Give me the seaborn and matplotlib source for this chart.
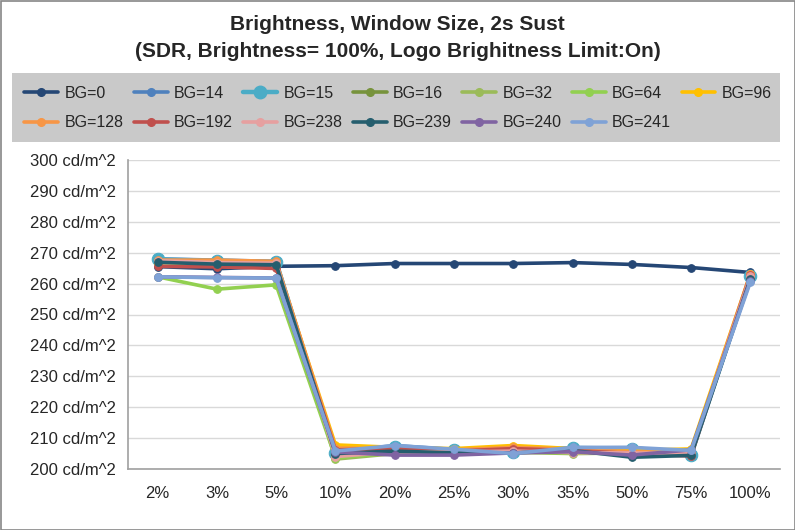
import matplotlib
matplotlib.use("Agg")
import matplotlib.pyplot as plt
import seaborn as sns
import pandas as pd
from matplotlib.lines import Line2D
from matplotlib.patches import Rectangle

categories = ["2%", "3%", "5%", "10%", "20%", "25%", "30%", "35%", "50%", "75%", "100%"]
series_names = ["BG=0", "BG=14", "BG=15", "BG=16", "BG=32", "BG=64", "BG=96",
                "BG=128", "BG=192", "BG=238", "BG=239", "BG=240", "BG=241"]
bg0 = [265.5, 264.8, 265.6, 265.8, 266.5, 266.5, 266.5, 266.8, 266.2, 265.2, 263.6]
bg14 = [268.0, 267.6, 267.2, 205.5, 207.6, 206.3, 205.8, 206.8, 206.9, 205.2, 262.0]
bg15 = [267.8, 267.4, 267.0, 205.3, 207.2, 206.0, 205.6, 206.8, 206.6, 204.6, 262.5]
bg16 = [267.2, 266.8, 266.4, 205.0, 206.2, 205.6, 206.2, 205.4, 205.0, 205.2, 262.2]
bg32 = [267.0, 266.6, 266.2, 203.2, 205.0, 205.0, 205.4, 205.0, 205.2, 205.5, 262.0]
bg64 = [262.2, 258.2, 259.6, 203.6, 205.3, 205.2, 205.8, 205.1, 205.5, 205.8, 262.3]
bg96 = [266.8, 266.6, 266.4, 207.8, 207.0, 206.6, 207.6, 206.6, 206.0, 206.5, 263.0]
bg128 = [267.6, 267.6, 267.2, 206.8, 206.5, 206.2, 207.0, 206.4, 205.6, 205.3, 263.2]
bg192 = [265.6, 265.4, 264.9, 206.2, 206.6, 205.8, 206.6, 206.0, 205.0, 204.2, 262.8]
bg238 = [267.4, 266.8, 266.6, 204.0, 205.6, 205.5, 205.8, 205.3, 205.2, 205.0, 262.4]
bg239 = [266.9, 266.3, 266.1, 205.0, 205.8, 205.2, 205.2, 206.0, 203.8, 204.4, 261.6]
bg240 = [262.2, 262.0, 261.8, 205.5, 204.5, 204.5, 205.2, 205.6, 204.5, 206.2, 261.0]
bg241 = [262.2, 261.9, 261.8, 205.8, 207.6, 206.4, 205.0, 207.0, 207.0, 206.0, 260.5]
all_values = [bg0, bg14, bg15, bg16, bg32, bg64, bg96, bg128, bg192, bg238, bg239, bg240, bg241]
colors = ["#254775", "#4F81BD", "#4BACC6", "#77933C", "#9BBB59", "#92D050", "#FFC000",
          "#F79646", "#C0504D", "#E6A0A0", "#255E6E", "#8064A2", "#7FA2D6"]
yticks = list(range(200, 301, 10))
ytick_labels = [f"{v} cd/m^2" for v in yticks]
title = "Brightness, Window Size, 2s Sust\n(SDR, Brightness= 100%, Logo Brighitness Limit:On)"

sns.set_style("white")
plt.rcParams['font.family'] = ['Liberation Sans', 'DejaVu Sans']

fig = plt.figure(figsize=(7.95, 5.3), dpi=100)
ax = fig.add_axes([128/795, 1-469/530, (780-128)/795, (469-160)/530])

for name, vals, col in zip(series_names, all_values, colors):
    df = pd.DataFrame({"Window": categories, "Value": vals})
    big = name == "BG=15"
    sns.lineplot(data=df, x="Window", y="Value", ax=ax, color=col, marker="o",
                 markersize=9 if big else 5.5, linewidth=3.2 if big else 2.6,
                 markeredgecolor=col, sort=False)

ax.set_xlim(-0.5, len(categories) - 0.5)
ax.set_ylim(200, 300)
ax.set_yticks(yticks)
ax.set_yticklabels(ytick_labels, fontsize=12)
ax.set_xticks(range(len(categories)))
ax.set_xticklabels(categories, fontsize=12)
ax.set_xticks([i - 0.5 for i in range(len(categories) + 1)], minor=True)
ax.tick_params(axis="x", which="major", length=0, pad=12)
ax.tick_params(axis="x", which="minor", length=5, color="#A0A0A0", width=1)
ax.tick_params(axis="y", length=5, color="#A0A0A0", width=1, direction="out")
ax.set_xlabel("")
ax.set_ylabel("")
ax.grid(axis="y", color="#D9D9D9", linewidth=1)
ax.set_axisbelow(True)
for s in ["top", "right"]:
    ax.spines[s].set_visible(False)
for s in ["left", "bottom"]:
    ax.spines[s].set_color("#A0A0A0")
    ax.spines[s].set_linewidth(1.2)

fig.text(0.5, 1-38/530, title, ha="center", va="center", fontsize=15, fontweight="bold",
         linespacing=1.5)

handles = []
for name, col in zip(series_names, colors):
    big = name == "BG=15"
    handles.append(Line2D([0], [0], color=col, marker="o", markersize=9 if big else 5.5,
                          linewidth=3.2 if big else 2.6, markeredgecolor=col))
# matplotlib fills legend columns first; reorder so entries read row by row
ncol = 7
order = []
for c in range(ncol):
    for r in range(2):
        i = r * ncol + c
        if i < len(series_names):
            order.append(i)
fig.patches.append(Rectangle((12/795, 1-142/530), (780-12)/795, (142-73)/530,
                             transform=fig.transFigure, facecolor="#C9C9C9",
                             edgecolor="none", zorder=0))
leg = fig.legend([handles[i] for i in order], [series_names[i] for i in order],
                 ncol=ncol, loc="center left",
                 bbox_to_anchor=(18/795, 1-140/530, (778-18)/795, 64/530),
                 mode="expand", frameon=False, fontsize=11.5, handlelength=2.1,
                 handletextpad=0.4, borderaxespad=0, labelspacing=0.9)

fig.patches.append(Rectangle((0.5/795, 0.5/530), 1-1/795, 1-1/530, transform=fig.transFigure,
                             facecolor="none", edgecolor="#868686", linewidth=1.2))
fig.savefig("out.png", dpi=100)
